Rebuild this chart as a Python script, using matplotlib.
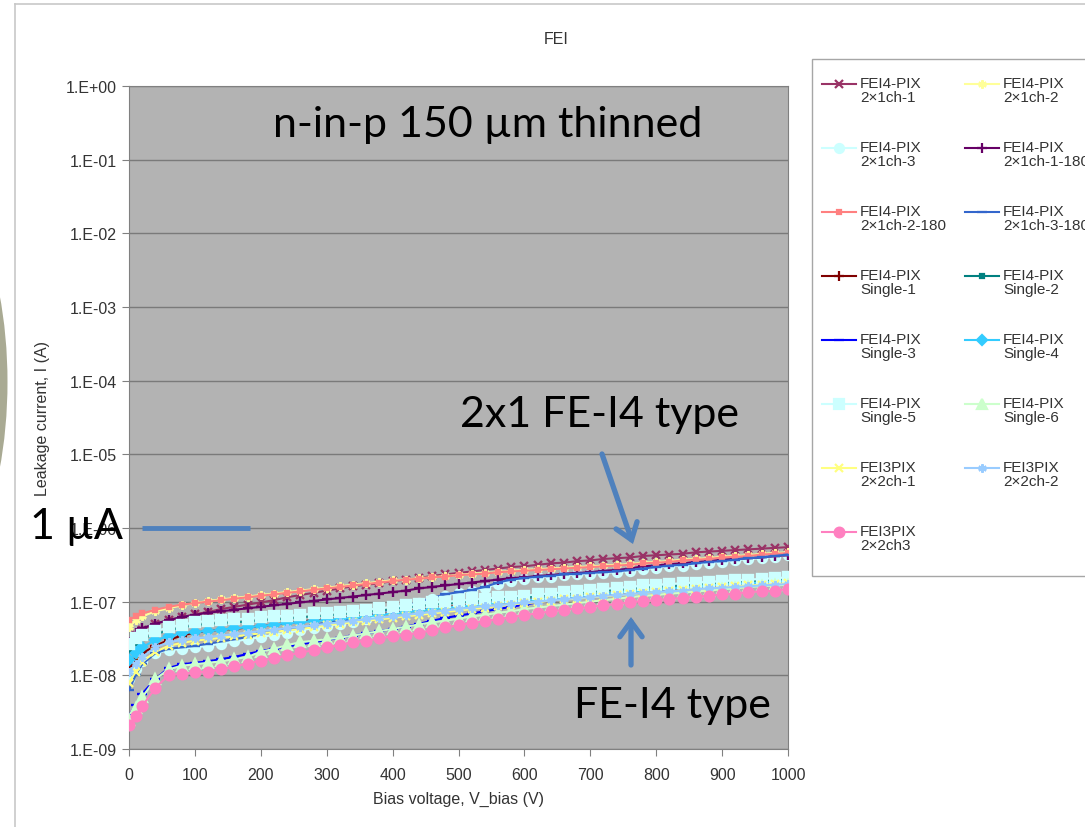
import numpy as np
import matplotlib
matplotlib.use("Agg")
import matplotlib.pyplot as plt
from matplotlib.lines import Line2D
from matplotlib.patches import Rectangle, Ellipse, FancyArrowPatch
from matplotlib.ticker import FuncFormatter, NullLocator

W, H = 1085, 828

# ---- data: leakage current, log10(I/A), at each bias voltage ----
bias_v = [0, 10] + list(range(20, 1001, 20))

labels = [
    "FEI4-PIX\n2\u00d71ch-1", "FEI4-PIX\n2\u00d71ch-2",
    "FEI4-PIX\n2\u00d71ch-3", "FEI4-PIX\n2\u00d71ch-1-180",
    "FEI4-PIX\n2\u00d71ch-2-180", "FEI4-PIX\n2\u00d71ch-3-180",
    "FEI4-PIX\nSingle-1", "FEI4-PIX\nSingle-2",
    "FEI4-PIX\nSingle-3", "FEI4-PIX\nSingle-4",
    "FEI4-PIX\nSingle-5", "FEI4-PIX\nSingle-6",
    "FEI3PIX\n2\u00d72ch-1", "FEI3PIX\n2\u00d72ch-2",
    "FEI3PIX\n2\u00d72ch3",
]

log_ch1 = [-7.60, -7.45, -7.38, -7.30, -7.25, -7.21, -7.17, -7.14, -7.10, -7.07, -7.04, -7.01, -6.98,
           -6.94, -6.91, -6.88, -6.85, -6.82, -6.79, -6.77, -6.75, -6.72, -6.70, -6.68, -6.65, -6.63,
           -6.61, -6.59, -6.57, -6.55, -6.53, -6.52, -6.50, -6.48, -6.47, -6.45, -6.44, -6.42, -6.41,
           -6.40, -6.38, -6.37, -6.36, -6.35, -6.33, -6.32, -6.31, -6.30, -6.29, -6.28, -6.27, -6.26]
log_ch2 = [-7.35, -7.25, -7.20, -7.13, -7.09, -7.05, -7.02, -6.99, -6.97, -6.95, -6.93, -6.91, -6.89,
           -6.87, -6.85, -6.83, -6.81, -6.79, -6.77, -6.75, -6.73, -6.71, -6.70, -6.68, -6.67, -6.65,
           -6.64, -6.62, -6.61, -6.60, -6.58, -6.57, -6.56, -6.55, -6.54, -6.53, -6.52, -6.51, -6.50,
           -6.49, -6.47, -6.46, -6.45, -6.43, -6.42, -6.41, -6.39, -6.38, -6.37, -6.35, -6.34, -6.33]
log_ch3 = [-8.05, -7.92, -7.80, -7.70, -7.66, -7.64, -7.62, -7.60, -7.57, -7.54, -7.51, -7.48, -7.45,
           -7.42, -7.39, -7.36, -7.33, -7.30, -7.27, -7.23, -7.19, -7.13, -7.08, -7.02, -6.97, -6.92,
           -6.88, -6.85, -6.81, -6.76, -6.72, -6.69, -6.67, -6.66, -6.64, -6.63, -6.62, -6.61, -6.60,
           -6.58, -6.56, -6.54, -6.52, -6.51, -6.49, -6.47, -6.46, -6.44, -6.42, -6.41, -6.39, -6.37]
log_ch1_180 = [-7.55, -7.42, -7.36, -7.30, -7.25, -7.21, -7.18, -7.15, -7.13, -7.11, -7.09, -7.07, -7.05,
               -7.03, -7.01, -6.99, -6.97, -6.95, -6.93, -6.91, -6.89, -6.87, -6.85, -6.82, -6.80, -6.78,
               -6.76, -6.74, -6.72, -6.70, -6.68, -6.67, -6.65, -6.64, -6.62, -6.61, -6.60, -6.58, -6.57,
               -6.55, -6.52, -6.51, -6.49, -6.48, -6.46, -6.45, -6.43, -6.42, -6.41, -6.40, -6.38, -6.37]
log_ch2_180 = [-7.25, -7.20, -7.16, -7.11, -7.07, -7.04, -7.02, -7.00, -6.98, -6.96, -6.94, -6.92, -6.90,
               -6.88, -6.86, -6.84, -6.82, -6.80, -6.78, -6.76, -6.74, -6.72, -6.70, -6.69, -6.67, -6.66,
               -6.64, -6.63, -6.62, -6.60, -6.59, -6.58, -6.57, -6.56, -6.55, -6.54, -6.53, -6.52, -6.51,
               -6.50, -6.48, -6.47, -6.46, -6.44, -6.43, -6.42, -6.40, -6.39, -6.38, -6.36, -6.35, -6.34]
log_ch3_180 = [-8.20, -8.00, -7.85, -7.70, -7.64, -7.62, -7.60, -7.57, -7.54, -7.51, -7.48, -7.43, -7.40,
               -7.37, -7.35, -7.32, -7.28, -7.26, -7.24, -7.19, -7.14, -7.10, -7.06, -7.00, -6.95, -6.90,
               -6.87, -6.84, -6.80, -6.74, -6.70, -6.68, -6.66, -6.65, -6.63, -6.62, -6.61, -6.60, -6.59,
               -6.57, -6.55, -6.53, -6.51, -6.50, -6.48, -6.46, -6.45, -6.43, -6.41, -6.40, -6.38, -6.36]
log_single1 = [-7.88, -7.78, -7.70, -7.60, -7.52, -7.46, -7.42, -7.40, -7.38, -7.37, -7.35, -7.33, -7.31,
               -7.29, -7.27, -7.25, -7.24, -7.22, -7.21, -7.19, -7.17, -7.15, -7.13, -7.11, -7.09, -7.07,
               -7.06, -7.04, -7.02, -7.01, -6.99, -6.98, -6.96, -6.95, -6.93, -6.92, -6.90, -6.89, -6.87,
               -6.86, -6.85, -6.83, -6.82, -6.81, -6.80, -6.78, -6.77, -6.76, -6.75, -6.74, -6.73, -6.72]
log_single2 = [-7.65, -7.56, -7.50, -7.44, -7.39, -7.35, -7.32, -7.30, -7.29, -7.28, -7.27, -7.25, -7.24,
               -7.23, -7.21, -7.20, -7.19, -7.17, -7.16, -7.14, -7.12, -7.10, -7.08, -7.06, -7.04, -7.03,
               -7.01, -7.00, -6.98, -6.97, -6.95, -6.94, -6.93, -6.91, -6.90, -6.88, -6.87, -6.85, -6.84,
               -6.83, -6.81, -6.80, -6.79, -6.78, -6.77, -6.76, -6.75, -6.74, -6.73, -6.72, -6.71, -6.70]
log_single3 = [-8.55, -8.40, -8.25, -8.05, -7.90, -7.85, -7.83, -7.81, -7.78, -7.75, -7.71, -7.67, -7.64,
               -7.61, -7.58, -7.55, -7.52, -7.49, -7.46, -7.43, -7.40, -7.37, -7.34, -7.30, -7.26, -7.22,
               -7.19, -7.16, -7.13, -7.10, -7.07, -7.04, -7.01, -6.99, -6.97, -6.95, -6.93, -6.91, -6.89,
               -6.87, -6.86, -6.85, -6.83, -6.82, -6.81, -6.79, -6.78, -6.77, -6.76, -6.75, -6.74, -6.73]
log_single4 = [-7.79, -7.70, -7.62, -7.52, -7.47, -7.43, -7.41, -7.40, -7.38, -7.36, -7.35, -7.33, -7.31,
               -7.29, -7.28, -7.26, -7.25, -7.23, -7.22, -7.20, -7.18, -7.16, -7.14, -7.12, -7.10, -7.08,
               -7.07, -7.05, -7.03, -7.01, -7.00, -6.98, -6.97, -6.95, -6.94, -6.92, -6.91, -6.89, -6.88,
               -6.86, -6.85, -6.84, -6.82, -6.81, -6.80, -6.78, -6.77, -6.76, -6.75, -6.74, -6.73, -6.72]
log_single5 = [-7.58, -7.50, -7.45, -7.40, -7.35, -7.31, -7.28, -7.26, -7.25, -7.24, -7.23, -7.21, -7.20,
               -7.19, -7.18, -7.16, -7.15, -7.14, -7.13, -7.11, -7.09, -7.07, -7.05, -7.03, -7.01, -7.00,
               -6.99, -6.97, -6.96, -6.94, -6.93, -6.92, -6.90, -6.89, -6.87, -6.86, -6.84, -6.83, -6.81,
               -6.80, -6.78, -6.77, -6.76, -6.75, -6.74, -6.73, -6.72, -6.71, -6.70, -6.69, -6.68, -6.67]
log_single6 = [-8.60, -8.45, -8.30, -8.05, -7.92, -7.87, -7.85, -7.83, -7.81, -7.78, -7.75, -7.68, -7.64,
               -7.59, -7.55, -7.53, -7.51, -7.49, -7.46, -7.43, -7.40, -7.37, -7.34, -7.31, -7.28, -7.26,
               -7.23, -7.20, -7.18, -7.15, -7.13, -7.10, -7.08, -7.06, -7.04, -7.02, -7.00, -6.98, -6.96,
               -6.94, -6.92, -6.91, -6.89, -6.88, -6.86, -6.85, -6.83, -6.82, -6.80, -6.79, -6.78, -6.77]
log_fei3_ch1 = [-8.10, -7.95, -7.82, -7.68, -7.60, -7.56, -7.53, -7.51, -7.49, -7.47, -7.45, -7.43, -7.41,
                -7.39, -7.37, -7.35, -7.32, -7.30, -7.28, -7.26, -7.24, -7.22, -7.20, -7.18, -7.16, -7.14,
                -7.12, -7.10, -7.08, -7.06, -7.04, -7.02, -7.01, -6.99, -6.97, -6.96, -6.94, -6.93, -6.91,
                -6.90, -6.88, -6.87, -6.86, -6.84, -6.83, -6.82, -6.80, -6.79, -6.78, -6.77, -6.76, -6.75]
log_fei3_ch2 = [-7.95, -7.85, -7.75, -7.62, -7.55, -7.52, -7.50, -7.48, -7.46, -7.44, -7.42, -7.40, -7.38,
                -7.36, -7.34, -7.32, -7.30, -7.28, -7.26, -7.24, -7.22, -7.20, -7.18, -7.16, -7.14, -7.12,
                -7.10, -7.08, -7.06, -7.05, -7.03, -7.01, -7.00, -6.98, -6.97, -6.95, -6.94, -6.92, -6.91,
                -6.90, -6.88, -6.87, -6.86, -6.85, -6.83, -6.82, -6.81, -6.80, -6.79, -6.78, -6.77, -6.76]
log_fei3_ch3 = [-8.68, -8.55, -8.42, -8.17, -8.00, -7.98, -7.96, -7.95, -7.92, -7.88, -7.84, -7.80, -7.77,
                -7.73, -7.69, -7.66, -7.62, -7.59, -7.55, -7.53, -7.50, -7.47, -7.45, -7.42, -7.39, -7.35,
                -7.32, -7.29, -7.26, -7.24, -7.21, -7.18, -7.16, -7.13, -7.11, -7.09, -7.07, -7.05, -7.03,
                -7.01, -6.99, -6.98, -6.96, -6.95, -6.93, -6.92, -6.90, -6.89, -6.87, -6.86, -6.85, -6.83]

series = [log_ch1, log_ch2, log_ch3, log_ch1_180, log_ch2_180, log_ch3_180,
          log_single1, log_single2, log_single3, log_single4, log_single5, log_single6,
          log_fei3_ch1, log_fei3_ch2, log_fei3_ch3]

# ---- styles (Excel-like) ----
ASTER = (6, 2, 0)
colors = ["#993366", "#FFFF99", "#CCFFFF", "#660066", "#FF8080", "#3366CC",
          "#800000", "#008080", "#0000FF", "#33CCFF", "#CCFFFF", "#CCFFCC",
          "#FFFF80", "#99CCFF", "#FF80C0"]
markers = ["x", ASTER, "o", "+", "s", "_", "+", "s", "_", "D", "s", "^", "x", ASTER, "o"]
msizes = [6, 6, 6.5, 7, 3, 7, 7, 3, 7, 5, 7.5, 6.5, 6, 6, 7]

UA_LEVEL = 1e-6
UA_SPAN = (20, 183)
ARROW_BLUE = "#4F81BD"
BIG_FONT = ["Lato", "DejaVu Sans"]
BIG_SIZE = 31


def px(x, y):
    return x / W, 1 - y / H


plt.rcParams["font.family"] = ["Liberation Sans", "DejaVu Sans"]

fig = plt.figure(figsize=(W / 100, H / 100), dpi=100)

# slide frame and the bit of picture peeking in on the left
fig.add_artist(Ellipse(px(-100, 383), 215 / W, 464 / H, transform=fig.transFigure,
                       facecolor="#A9AA93", edgecolor="none"))
fig.add_artist(Line2D([15 / W, 15 / W], [0, 1 - 5 / H], transform=fig.transFigure,
                      color="#C8C8C8", lw=1.2))
fig.add_artist(Line2D([15 / W, 1], [1 - 5 / H, 1 - 5 / H], transform=fig.transFigure,
                      color="#C8C8C8", lw=1.2))

ax = fig.add_axes([129 / W, 1 - 750 / H, (788 - 129) / W, (750 - 87) / H])
ax.set_facecolor("#B3B3B3")

for vals, col, mk, ms in zip(series, colors, markers, msizes):
    ax.plot(bias_v, 10 ** np.array(vals), color=col, marker=mk, markersize=ms,
            markerfacecolor=col, markeredgecolor=col, markeredgewidth=1.7,
            linewidth=1.5, zorder=3)

ax.set_yscale("log")
ax.set_ylim(1e-9, 1)
ax.set_xlim(0, 1000)
ax.set_xticks(range(0, 1001, 100))
ax.set_yticks([10.0 ** k for k in range(-9, 1)])
ax.yaxis.set_minor_locator(NullLocator())
ax.yaxis.set_major_formatter(FuncFormatter(lambda v, _: "1.E%+03d" % int(round(np.log10(v)))))
ax.grid(axis="y", color="#7A7A7A", linewidth=1.0, zorder=0)
ax.set_axisbelow(True)
for sp in ax.spines.values():
    sp.set_color("#808080")
ax.tick_params(axis="both", colors="#808080", labelcolor="#333333", labelsize=11.5, length=5)
ax.tick_params(axis="x", pad=8)
ax.set_xlabel("Bias voltage, V_bias (V)", fontsize=11.5, color="#333333", labelpad=6)
ax.set_ylabel("Leakage current, I (A)", fontsize=11.5, color="#333333", labelpad=12)
fig.text(*px(556, 40), "FEI", ha="center", va="center", fontsize=11.5, color="#333333")

# 1 uA marker line
ax.plot(UA_SPAN, [UA_LEVEL, UA_LEVEL], color=ARROW_BLUE, linewidth=3.5, zorder=4,
        solid_capstyle="butt")

# slide annotations
fig.text(*px(488, 125), "n-in-p 150 \u00b5m thinned", ha="center", va="center",
         fontsize=BIG_SIZE, family=BIG_FONT, color="black")
fig.text(*px(600, 415), "2x1 FE-I4 type", ha="center", va="center",
         fontsize=BIG_SIZE, family=BIG_FONT, color="black")
fig.text(*px(672, 706), "FE-I4 type", ha="center", va="center",
         fontsize=BIG_SIZE, family=BIG_FONT, color="black")
fig.text(*px(77, 527), "1 \u00b5A", ha="center", va="center",
         fontsize=BIG_SIZE, family=BIG_FONT, color="black")

arrow_kw = dict(arrowstyle="->,head_length=0.55,head_width=0.4", color=ARROW_BLUE, lw=3.8,
                shrinkA=0, shrinkB=0, mutation_scale=20, transform=fig.transFigure,
                capstyle="round", joinstyle="miter")
fig.add_artist(FancyArrowPatch(px(602, 455), px(633, 545), **arrow_kw))
fig.add_artist(FancyArrowPatch(px(631, 666), px(631, 618), **arrow_kw))

# legend drawn by hand, Excel style (row-major, two columns)
fig.add_artist(Rectangle(px(812, 577), (1100 - 812) / W, (577 - 60) / H,
                         transform=fig.transFigure, facecolor="white",
                         edgecolor="#A6A6A6", linewidth=1.0))
col_x = [822, 965]
for i, (lab, col, mk, ms) in enumerate(zip(labels, colors, markers, msizes)):
    row, c = divmod(i, 2)
    y = 85 + row * 64
    x0 = col_x[c]
    fig.add_artist(Line2D([x0 / W, (x0 + 34) / W], [1 - y / H] * 2, transform=fig.transFigure,
                          color=col, linewidth=1.5))
    fig.add_artist(Line2D([(x0 + 17) / W], [1 - y / H], transform=fig.transFigure,
                          color=col, marker=mk, markersize=ms, markeredgewidth=1.6,
                          markerfacecolor=col, markeredgecolor=col))
    fig.text((x0 + 38) / W, 1 - (y - 8) / H, lab, ha="left", va="top",
             fontsize=11, color="#333333", linespacing=1.0)

fig.savefig("out.png", dpi=100)
